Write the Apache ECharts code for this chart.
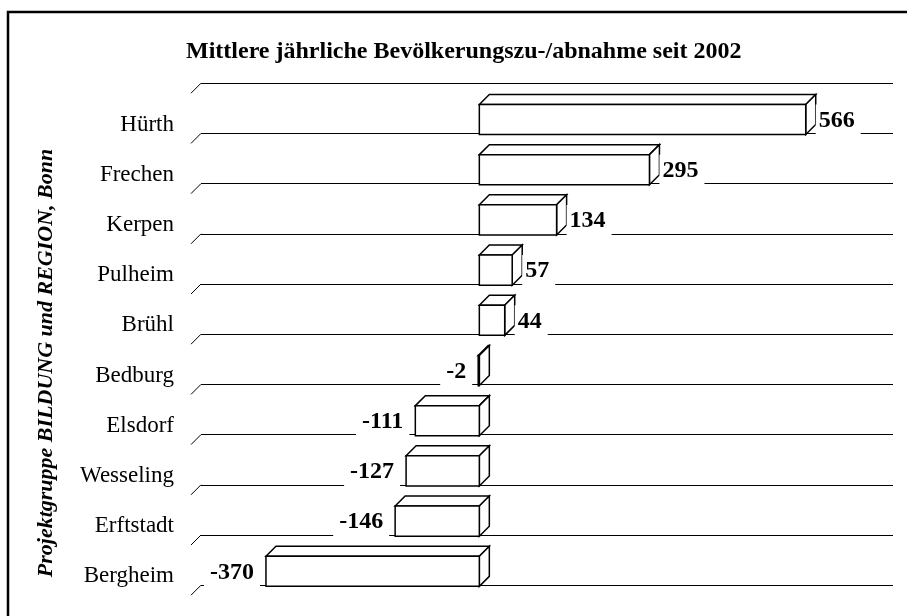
<!DOCTYPE html>
<html>
<head>
<meta charset="utf-8">
<script src="https://cdn.jsdelivr.net/npm/echarts@6/dist/echarts.min.js"></script>
<style>
  html, body { margin: 0; padding: 0; background: #fff; }
  #main { width: 907px; height: 616px; }
</style>
</head>
<body>
<div id="main"></div>
<script>
// data
const cities = ['Hürth', 'Frechen', 'Kerpen', 'Pulheim', 'Brühl', 'Bedburg', 'Elsdorf', 'Wesseling', 'Erftstadt', 'Bergheim'];
const changes = [566, 295, 134, 57, 44, -2, -111, -127, -146, -370];
const valueMin = -500;
const valueMax = 700;

const serif = '"Liberation Serif", "Times New Roman", serif';
const depth = 10;

let myChart = echarts.init(document.getElementById('main'));

// 3d box for one bar: front face, top face, right side face + label
function renderBox(params, api) {
  let v = api.value(0);
  let i = api.value(1);
  let pZero = api.coord([0, i]);
  let pVal = api.coord([v, i]);
  let h = api.size([0, 1])[1] * 0.6;
  let x0 = Math.min(pZero[0], pVal[0]);
  let x1 = Math.max(pZero[0], pVal[0]);
  let yc = pZero[1];
  let yt = yc - h / 2;
  let yb = yc + h / 2;
  let lineStyle = { fill: '#fff', stroke: '#000', lineWidth: 1.5 };
  let label;
  if (v >= 0) {
    label = { x: x1 + depth, y: yc + 1, align: 'left', pad: [4, 6, 4, 3] };
  } else {
    label = { x: x0 - 6, y: yc + 1, align: 'right', pad: [4, 6, 4, 6] };
  }
  return {
    type: 'group',
    children: [
      { type: 'polygon', shape: { points: [[x0, yt], [x0 + depth, yt - depth], [x1 + depth, yt - depth], [x1, yt]] }, style: lineStyle },
      { type: 'polygon', shape: { points: [[x1, yt], [x1 + depth, yt - depth], [x1 + depth, yb - depth], [x1, yb]] }, style: lineStyle },
      { type: 'rect', shape: { x: x0, y: yt, width: x1 - x0, height: h }, style: lineStyle },
      {
        type: 'text',
        x: label.x, y: label.y,
        style: {
          text: String(v),
          font: 'bold 24px ' + serif,
          fill: '#000',
          align: label.align,
          verticalAlign: 'middle',
          backgroundColor: '#fff',
          padding: label.pad
        }
      }
    ]
  };
}

// small diagonal stubs at the left of the back lines
function renderStub(params, api) {
  let i = api.value(1);
  let c = api.coord([valueMin, i]);
  let band = api.size([0, 1])[1];
  let ys = [c[1] - band / 2];
  if (i === cities.length - 1) ys.push(c[1] + band / 2);
  return {
    type: 'group',
    children: ys.map(function (y) {
      return { type: 'line', shape: { x1: c[0], y1: y, x2: c[0] - depth, y2: y + depth }, style: { stroke: '#000', lineWidth: 1 } };
    })
  };
}

let option = {
  animation: false,
  backgroundColor: '#fff',
  title: {
    text: 'Mittlere jährliche Bevölkerungszu-/abnahme seit 2002',
    left: 186,
    top: 40,
    padding: 0,
    textStyle: { fontFamily: serif, fontWeight: 'bold', fontSize: 24, color: '#000' }
  },
  grid: [
    { left: 191, right: 24, top: 94.4, height: 502, outerBoundsMode: 'none' },
    { left: 201, right: 14, top: 83.2, height: 502, outerBoundsMode: 'none' }
  ],
  xAxis: [
    { type: 'value', gridIndex: 0, min: valueMin, max: valueMax, show: false },
    { type: 'value', gridIndex: 1, min: valueMin, max: valueMax, show: false }
  ],
  yAxis: [
    {
      type: 'category', gridIndex: 0, data: cities, inverse: true,
      axisLine: { show: false }, axisTick: { show: false }, splitLine: { show: false },
      axisLabel: {
        margin: 17,
        formatter: '{n|{value}}',
        rich: {
          n: { fontFamily: serif, fontSize: 23, color: '#000', padding: [10, 0, 0, 0] }
        }
      }
    },
    {
      type: 'category', gridIndex: 1, data: cities, inverse: true,
      axisLine: { show: false }, axisTick: { show: false }, axisLabel: { show: false },
      splitLine: { show: true, lineStyle: { color: '#000', width: 1 } }
    }
  ],
  series: [
    {
      type: 'custom',
      xAxisIndex: 1, yAxisIndex: 1,
      renderItem: renderStub,
      data: changes.map(function (v, i) { return [v, i]; }),
      z: 1
    },
    {
      type: 'custom',
      xAxisIndex: 0, yAxisIndex: 0,
      renderItem: renderBox,
      data: changes.map(function (v, i) { return [v, i]; }),
      encode: { x: 0, y: 1 },
      z: 3
    }
  ],
  graphic: [
    {
      type: 'rect',
      shape: { x: 8, y: 12, width: 1000, height: 1000 },
      style: { fill: 'none', stroke: '#000', lineWidth: 2.5 },
      z: 10
    },
    {
      type: 'text',
      x: 46, y: 363,
      rotation: Math.PI / 2,
      style: {
        text: 'Projektgruppe BILDUNG und REGION, Bonn',
        font: 'italic bold 22px ' + serif,
        fill: '#000',
        align: 'center',
        verticalAlign: 'middle'
      }
    }
  ]
};

myChart.setOption(option);
</script>
</body>
</html>
